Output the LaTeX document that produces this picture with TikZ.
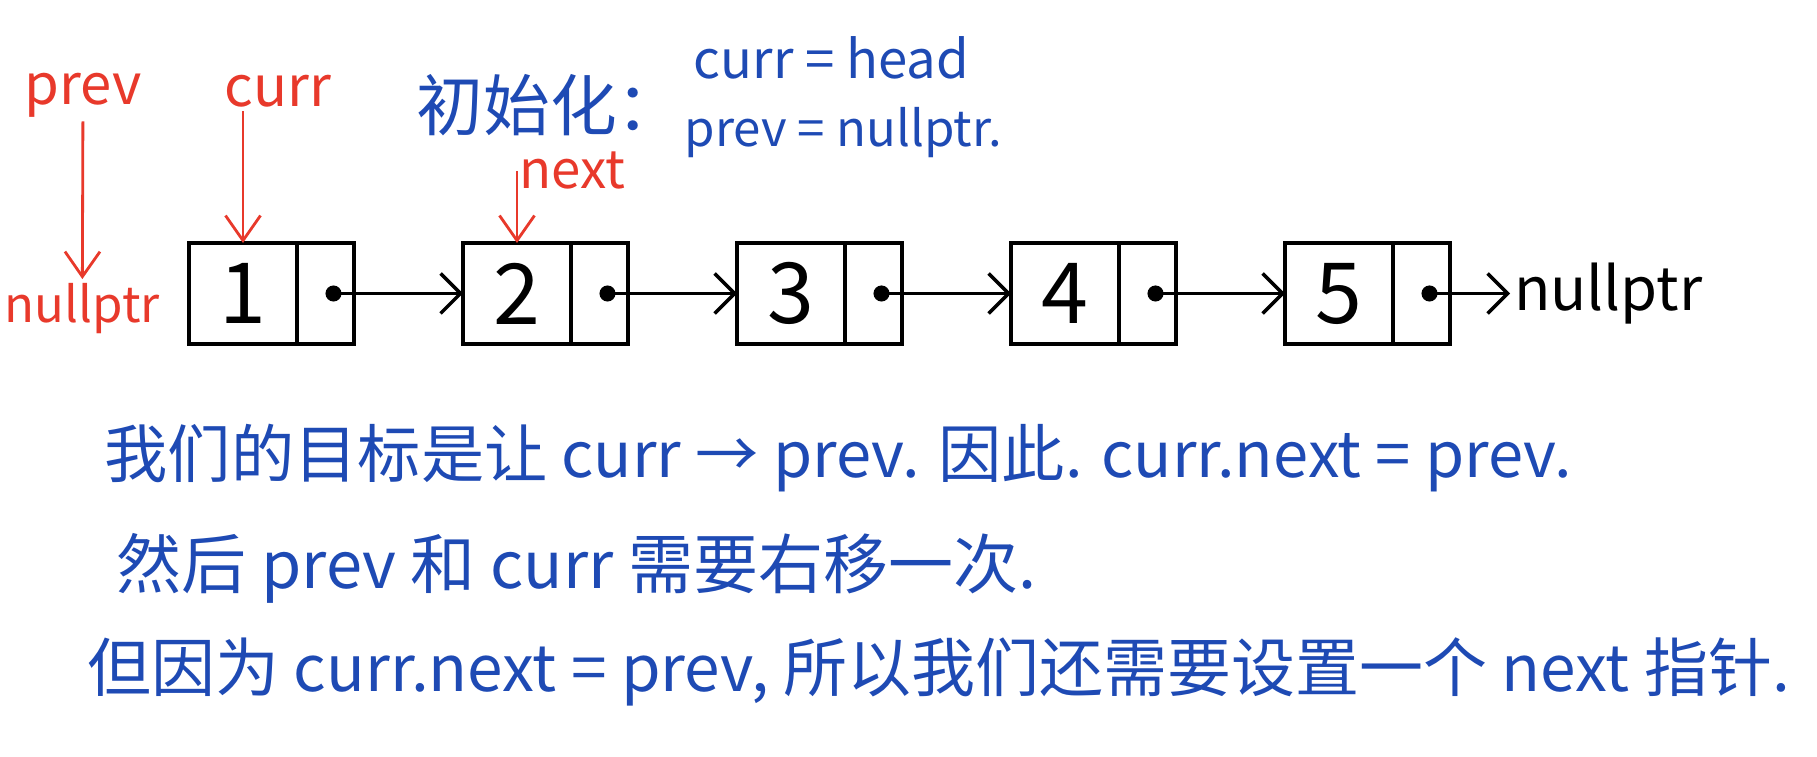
\documentclass[tikz,border=0pt]{standalone}
\usepackage{fontspec}
\setmainfont{Noto Sans CJK SC}
\usepackage{xcolor}
\usetikzlibrary{positioning,arrows.meta}
\definecolor{inkred}{HTML}{E8392B}
\definecolor{inkblue}{HTML}{1E4AB4}
\tikzset{
  valbox/.style={draw,line width=1.4pt,minimum width=10.8mm,minimum height=10.1mm,
    inner sep=0pt,outer sep=0pt,font=\fontsize{24}{28}\selectfont},
  ptrbox/.style={draw,line width=1.4pt,minimum width=5.7mm,minimum height=10.1mm,
    inner sep=0pt,outer sep=0pt},
  link/.style={{Circle[length=1.6mm]}-{Straight Barb[length=2mm,width=4mm]},line width=1pt},
  tag/.style={text=inkred,font=\fontsize{16}{19}\selectfont,inner sep=1pt},
  tagarrow/.style={-{Straight Barb[length=2.5mm,width=3.5mm]},draw=inkred,line width=0.8pt},
  note/.style={text=inkblue,anchor=west,inner sep=0pt},
}

\begin{document}
\begin{tikzpicture}
  \useasboundingbox (0,0) rectangle (18.17,7.57);
  % the list
  \node[valbox] (val1) at (2.43,4.635) {1};
  \node[ptrbox,right=0pt of val1] (ptr1) {};
  \node[valbox,right=10.9mm of ptr1] (val2) {2};
  \node[ptrbox,right=0pt of val2] (ptr2) {};
  \node[valbox,right=10.9mm of ptr2] (val3) {3};
  \node[ptrbox,right=0pt of val3] (ptr3) {};
  \node[valbox,right=10.9mm of ptr3] (val4) {4};
  \node[ptrbox,right=0pt of val4] (ptr4) {};
  \node[valbox,right=10.9mm of ptr4] (val5) {5};
  \node[ptrbox,right=0pt of val5] (ptr5) {};
  \node[right=6mm of ptr5,inner sep=1pt,font=\fontsize{17}{20}\selectfont] (nullb) {nullptr};
  \draw[link] (ptr1.center) -- (val2.west);
  \draw[link] (ptr2.center) -- (val3.west);
  \draw[link] (ptr3.center) -- (val4.west);
  \draw[link] (ptr4.center) -- (val5.west);
  \draw[link] (ptr5.center) -- (nullb.west);
  % pointers
  \node[tag,font=\fontsize{14}{17}\selectfont,left=2.5mm of val1,yshift=-1.5mm] (nulla) {nullptr};
  \node[tag] (prev) at (0.83,6.62) {prev};
  \node[tag] (curr) at (2.78,6.66) {curr};
  \node[tag,font=\fontsize{15}{18}\selectfont] (next) at (5.72,5.86) {next};
  \draw[tagarrow] (prev) -- (nulla);
  \draw[tagarrow] (val1.north |- curr.south) -- (val1.north);
  \draw[tagarrow] (next.west -| val2.north) -- (val2.north);
  % initialisation
  \node[text=inkblue,font=\fontsize{19}{23}\selectfont] (init) at (5.50,6.52) {初始化：};
  \node[note,font=\fontsize{15}{18}\selectfont] (initcurr) at (6.93,6.99) {curr = head};
  \node[note,font=\fontsize{14}{17}\selectfont] (initprev) at (6.84,6.24) {prev = nullptr.};
  % explanation
  \node[note,font=\fontsize{18}{21}\selectfont] (line1) at (1.04,2.99)
    {我们的目标是让 curr → prev. 因此. curr.next = prev.};
  \node[note,font=\fontsize{18.5}{22}\selectfont] (line2) at (1.16,1.89)
    {然后 prev 和 curr 需要右移一次.};
  \node[note,font=\fontsize{18.2}{21}\selectfont] (line3) at (0.87,0.85)
    {但因为 curr.next = prev, 所以我们还需要设置一个 next 指针.};
\end{tikzpicture}
\end{document}
